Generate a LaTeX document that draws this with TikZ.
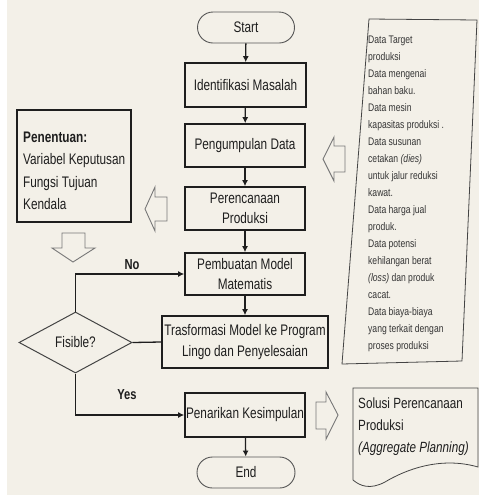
\documentclass[tikz,border=0pt]{standalone}
\usepackage{fontspec}
\setmainfont{Liberation Sans}[FakeStretch=0.77]
\newfontfamily\datafont{Liberation Sans}[FakeStretch=0.78]
\newfontfamily\docfont{Liberation Sans}[FakeStretch=0.79]
\usetikzlibrary{shapes.geometric,arrows.meta}
\definecolor{bg}{HTML}{F3F0E8}
\definecolor{ink}{HTML}{1E1E1E}
\definecolor{hollowgray}{HTML}{777777}
\definecolor{thinline}{HTML}{444444}
\tikzset{
  procbox/.style={draw=ink, line width=1.7pt, fill=bg, minimum width=120pt,
    minimum height=44pt, inner sep=1pt, align=center, text=ink,
    font=\fontsize{15.3}{20.5}\selectfont},
  termbox/.style={draw=ink!75, line width=0.9pt, fill=bg, rounded corners=15.5pt,
    minimum width=97pt, minimum height=31pt, inner sep=0pt, text=ink,
    font=\fontsize{15.3}{17}\selectfont},
  decbox/.style={diamond, draw=thinline, line width=1pt, fill=bg, minimum width=113pt,
    minimum height=61pt, inner sep=0pt, text=ink, font=\fontsize{15.3}{17}\selectfont},
  flow/.style={draw=ink, line width=1.3pt, -{Latex[length=6pt,width=6pt]}},
  plainflow/.style={draw=ink, line width=1.3pt},
  hollow/.style={draw=hollowgray, line width=0.9pt, fill=bg, line join=miter},
  lbl/.style={font=\fontsize{14.5}{16}\selectfont\bfseries, text=ink, inner sep=0pt},
  lefttext/.style={anchor=base west, inner sep=0pt, text=ink,
    font=\fontsize{15.3}{17}\selectfont},
  datatext/.style={anchor=base west, inner sep=0pt, text=ink!90,
    font=\datafont\fontsize{11}{12}\selectfont},
  doctext/.style={anchor=base west, inner sep=0pt, text=ink,
    font=\docfont\fontsize{14.8}{17}\selectfont},
}
\begin{document}
\begin{tikzpicture}[x=1pt,y=-1pt]
\useasboundingbox (0,0) rectangle (479,496);
\fill[bg] (7,0) rectangle (479,495);

% main flow
\node[termbox] (start) at (246,27.5) {Start};
\node[procbox, minimum width=121pt] (ident) at (245.5,85) {Identifikasi Masalah};
\node[procbox, minimum height=43pt] (kumpul) at (245,145.5) {Pengumpulan Data};
\node[procbox, minimum height=43pt] (rencana) at (245,208.5) {Perencanaan\\Produksi};
\node[procbox, minimum height=42pt] (model) at (245,274) {Pembuatan Model\\Matematis};
\node[procbox, minimum width=166pt, minimum height=52pt] (trans) at (245,342) {Trasformasi Model ke Program\\Lingo dan Penyelesaian};
\node[procbox] (tarik) at (245,415) {Penarikan Kesimpulan};
\node[termbox, minimum width=98pt] (end) at (246,472.5) {End};
\node[decbox] (fis) at (75.5,342.5) {Fisible?};

\draw[flow] (start) -- (ident);
\draw[flow] (ident) -- (kumpul);
\draw[flow] (kumpul) -- (rencana);
\draw[flow] (rencana) -- (model);
\draw[flow] (model) -- (trans);
\draw[flow] (tarik) -- (end);
\draw[plainflow] (fis.east) -- (trans.west);
\draw[flow] (fis.north) |- (model.west);
\draw[flow] (fis.south) |- (tarik.west);
\node[lbl] (no) at (132,265) {No};
\node[lbl] (yes) at (127,395) {Yes};

% Penentuan box
\node[draw=ink, line width=1.7pt, fill=bg, minimum width=114pt, minimum height=112pt, inner sep=0pt] (tentu) at (74,166) {};
\node[lefttext] (t1) at (23,142) {\bfseries Penentuan:};
\node[lefttext] (t2) at (23,164.5) {Variabel Keputusan};
\node[lefttext] (t3) at (23,187) {Fungsi Tujuan};
\node[lefttext] (t4) at (23,209.5) {Kendala};

% hollow arrows
\draw[hollow] (323,159) -- (334,137) -- (334,146) -- (345,146) -- (345,172) -- (334,172) -- (334,181) -- cycle;
\draw[hollow] (145,209) -- (155,187) -- (155,197) -- (167,197) -- (167,221) -- (155,221) -- (155,231) -- cycle;
\draw[hollow] (62,233) -- (85,233) -- (85,248) -- (95,248) -- (73,262) -- (52,248) -- (62,248) -- cycle;
\draw[hollow] (316,402) -- (326,402) -- (326,392) -- (338,415) -- (326,439) -- (326,429) -- (316,429) -- cycle;

% data box
\draw[draw=thinline, line width=0.8pt, fill=bg] (369,19) -- (477,20) -- (462,361) -- (342,364) -- cycle;
\foreach [count=\i] \t in {Data Target, produksi, Data mengenai, bahan baku., Data mesin,
  kapasitas produksi ., Data susunan, {cetakan \textit{(dies)}}, untuk jalur reduksi,
  kawat., Data harga jual, produk., Data potensi, kehilangan berat,
  {\textit{(loss)} dan produk}, cacat., Data biaya-biaya, yang terkait dengan, proses produksi}
  \node[datatext] (d\i) at (368,{43+(\i-1)*17.05}) {\t};

% solusi document
\draw[draw=thinline, line width=0.8pt, fill=bg] (353,480) -- (353,388) -- (478,388) -- (478,467)
  .. controls (440,456) and (405,470) .. (385,482) .. controls (370,490) and (360,486) .. (353,480);
\node[doctext] (s1) at (358,408) {Solusi Perencanaan};
\node[doctext] (s2) at (358,430) {Produksi};
\node[doctext] (s3) at (358,452) {\itshape (Aggregate Planning)};
\end{tikzpicture}
\end{document}
